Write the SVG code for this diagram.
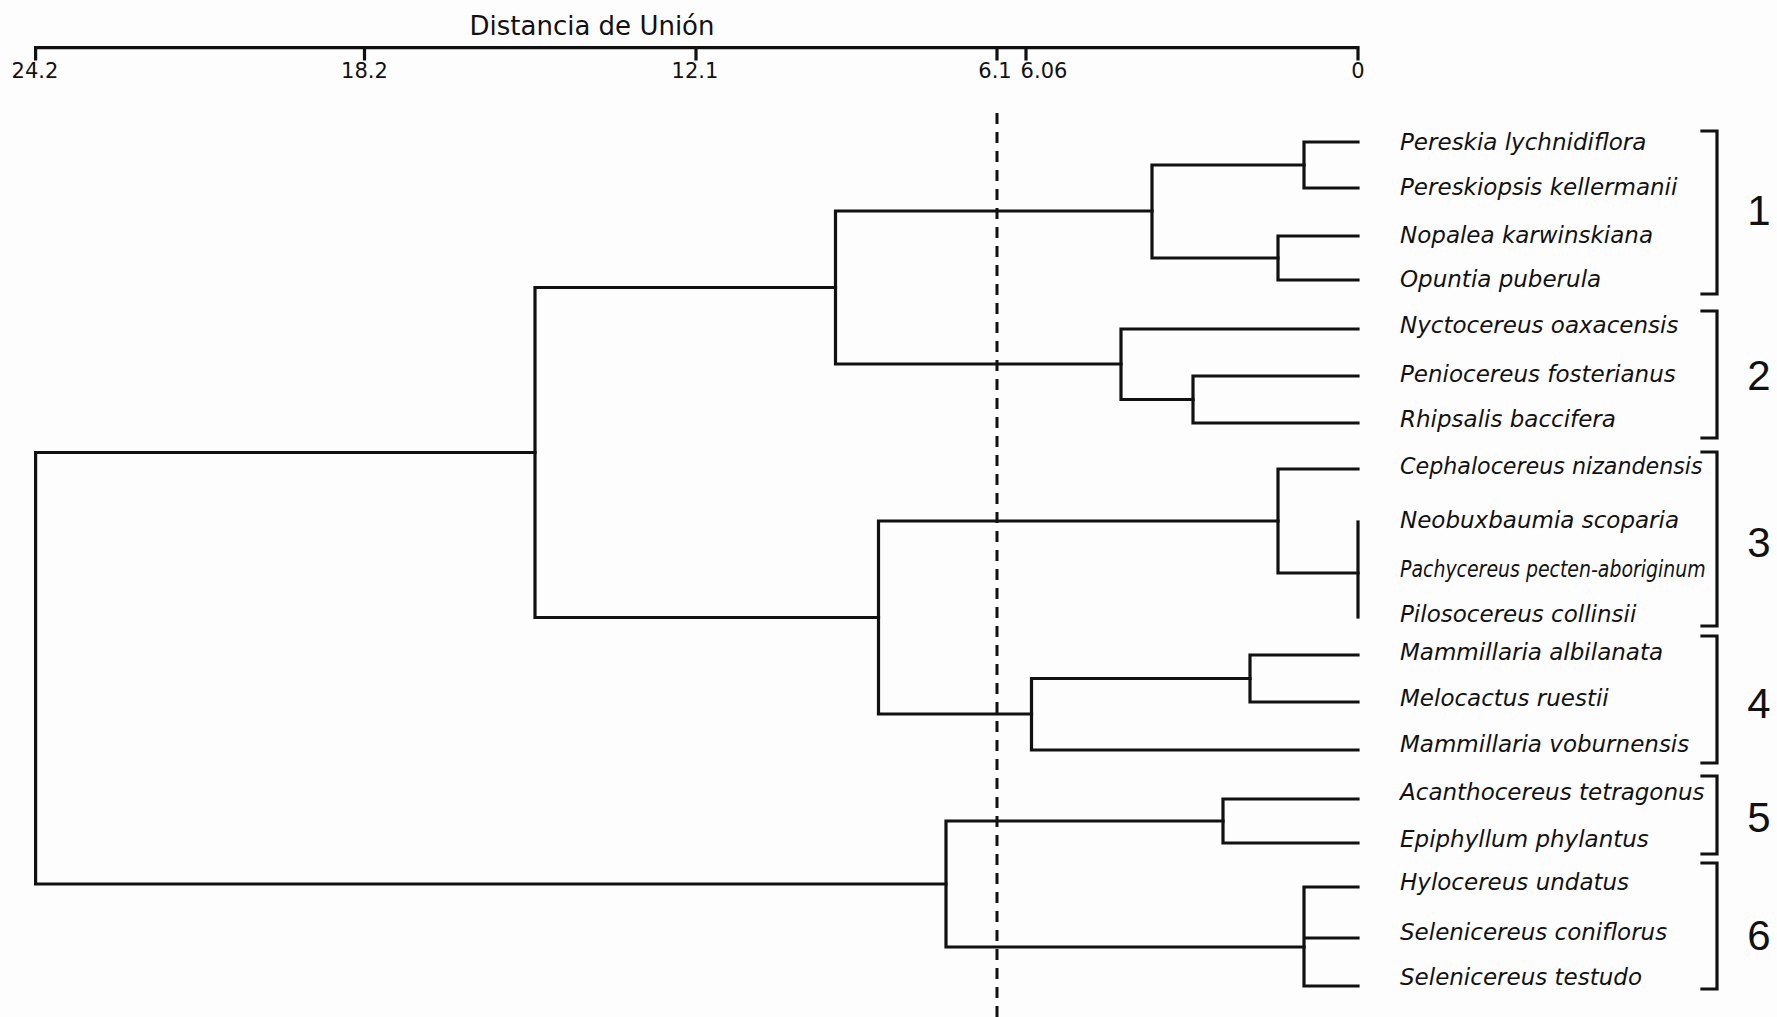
<svg xmlns="http://www.w3.org/2000/svg" width="1777" height="1017" viewBox="0 0 1777 1017">
  <style>
    .ln { fill: none; stroke: #111; stroke-width: 3.2; stroke-linejoin: miter; stroke-linecap: square; }
    .cut { fill: none; stroke: #111; stroke-width: 3; stroke-dasharray: 11 8; }
    .title { font-family: "DejaVu Sans", "Liberation Sans", sans-serif; font-size: 26px; fill: #111; text-anchor: middle; }
    .tick { font-family: "DejaVu Sans", "Liberation Sans", sans-serif; font-size: 21px; fill: #111; text-anchor: middle; }
    .leaf { font-family: "DejaVu Sans", "Liberation Sans", sans-serif; font-size: 23px; font-style: italic; fill: #111; }
    .grp { font-family: "Liberation Sans", "DejaVu Sans", sans-serif; font-size: 42px; fill: #111; text-anchor: middle; }
  </style>
  <rect width="1777" height="1017" fill="#fdfdfd"/>

  <!-- distance axis -->
  <g id="axis">
    <text class="title" x="592" y="35">Distancia de Unión</text>
    <path class="ln" d="M35.6 59 V47.7 H1358 V59"/>
    <path class="ln" d="M364.5 47.7 V59 M696 47.7 V59 M997 47.7 V59 M1026 47.7 V59"/>
    <text class="tick" x="35" y="78">24.2</text>
    <text class="tick" x="364.5" y="78">18.2</text>
    <text class="tick" x="695" y="78">12.1</text>
    <text class="tick" x="995" y="78">6.1</text>
    <text class="tick" x="1044" y="78">6.06</text>
    <text class="tick" x="1358" y="78">0</text>
  </g>

  <!-- cut-off level -->
  <line id="cutoff" class="cut" x1="997" y1="113" x2="997" y2="1017"/>

  <!-- dendrogram branches -->
  <g id="connectors">
    <path id="n1" class="ln" d="M1358 142 H1304 V188 H1358"/>
    <path id="n2" class="ln" d="M1358 236 H1278 V280 H1358"/>
    <path id="n3" class="ln" d="M1304 165 H1152 V258 H1278"/>
    <path id="n4" class="ln" d="M1358 376 H1193 V423 H1358"/>
    <path id="n5" class="ln" d="M1358 329 H1121 V399.5 H1193"/>
    <path id="n6" class="ln" d="M1152 211 H835.5 V364 H1121"/>
    <path id="n7" class="ln" d="M1358 522 V617"/>
    <path id="n8" class="ln" d="M1358 469 H1278 V573 H1358"/>
    <path id="n9" class="ln" d="M1358 655 H1250 V702 H1358"/>
    <path id="n10" class="ln" d="M1250 678.5 H1031.5 V750 H1358"/>
    <path id="n11" class="ln" d="M1278 521 H878.5 V714 H1031.5"/>
    <path id="n12" class="ln" d="M835.5 287.5 H535 V617.5 H878.5"/>
    <path id="n13" class="ln" d="M1358 799 H1223 V843 H1358"/>
    <path id="n14" class="ln" d="M1358 887 H1304 V986 H1358 M1304 938 H1358"/>
    <path id="n15" class="ln" d="M1223 821 H946 V947 H1304"/>
    <path id="root" class="ln" d="M535 452.5 H35.6 V884 H946"/>
  </g>

  <!-- taxa -->
  <g id="taxa">
    <g id="leaf-pereskia-lychnidiflora"><text class="leaf" x="1400" y="150">Pereskia lychnidiflora</text></g>
    <g id="leaf-pereskiopsis-kellermanii"><text class="leaf" x="1400" y="195">Pereskiopsis kellermanii</text></g>
    <g id="leaf-nopalea-karwinskiana"><text class="leaf" x="1400" y="243">Nopalea karwinskiana</text></g>
    <g id="leaf-opuntia-puberula"><text class="leaf" x="1400" y="287">Opuntia puberula</text></g>
    <g id="leaf-nyctocereus-oaxacensis"><text class="leaf" x="1400" y="333">Nyctocereus oaxacensis</text></g>
    <g id="leaf-peniocereus-fosterianus"><text class="leaf" x="1400" y="382">Peniocereus fosterianus</text></g>
    <g id="leaf-rhipsalis-baccifera"><text class="leaf" x="1400" y="427">Rhipsalis baccifera</text></g>
    <g id="leaf-cephalocereus-nizandensis"><text class="leaf" transform="translate(1400 474) scale(0.965 1)">Cephalocereus nizandensis</text></g>
    <g id="leaf-neobuxbaumia-scoparia"><text class="leaf" x="1400" y="528">Neobuxbaumia scoparia</text></g>
    <g id="leaf-pachycereus-pecten-aboriginum"><text class="leaf" transform="translate(1400 577) scale(0.823 1)">Pachycereus pecten-aboriginum</text></g>
    <g id="leaf-pilosocereus-collinsii"><text class="leaf" x="1400" y="622">Pilosocereus collinsii</text></g>
    <g id="leaf-mammillaria-albilanata"><text class="leaf" x="1400" y="660">Mammillaria albilanata</text></g>
    <g id="leaf-melocactus-ruestii"><text class="leaf" x="1400" y="706">Melocactus ruestii</text></g>
    <g id="leaf-mammillaria-voburnensis"><text class="leaf" x="1400" y="752">Mammillaria voburnensis</text></g>
    <g id="leaf-acanthocereus-tetragonus"><text class="leaf" x="1400" y="800">Acanthocereus tetragonus</text></g>
    <g id="leaf-epiphyllum-phylantus"><text class="leaf" x="1400" y="847">Epiphyllum phylantus</text></g>
    <g id="leaf-hylocereus-undatus"><text class="leaf" x="1400" y="890">Hylocereus undatus</text></g>
    <g id="leaf-selenicereus-coniflorus"><text class="leaf" x="1400" y="940">Selenicereus coniflorus</text></g>
    <g id="leaf-selenicereus-testudo"><text class="leaf" x="1400" y="985">Selenicereus testudo</text></g>
  </g>

  <!-- group brackets and numbers -->
  <g id="groups">
    <g id="group-1"><path class="ln" d="M1702 131 H1717 V294 H1702"/><text class="grp" x="1759" y="225">1</text></g>
    <g id="group-2"><path class="ln" d="M1702 311 H1717 V438 H1702"/><text class="grp" x="1759" y="390">2</text></g>
    <g id="group-3"><path class="ln" d="M1702 452 H1717 V626 H1702"/><text class="grp" x="1759" y="557">3</text></g>
    <g id="group-4"><path class="ln" d="M1702 636 H1717 V763 H1702"/><text class="grp" x="1759" y="718">4</text></g>
    <g id="group-5"><path class="ln" d="M1702 776 H1717 V854 H1702"/><text class="grp" x="1759" y="832">5</text></g>
    <g id="group-6"><path class="ln" d="M1702 863 H1717 V989 H1702"/><text class="grp" x="1759" y="950">6</text></g>
  </g>
</svg>
